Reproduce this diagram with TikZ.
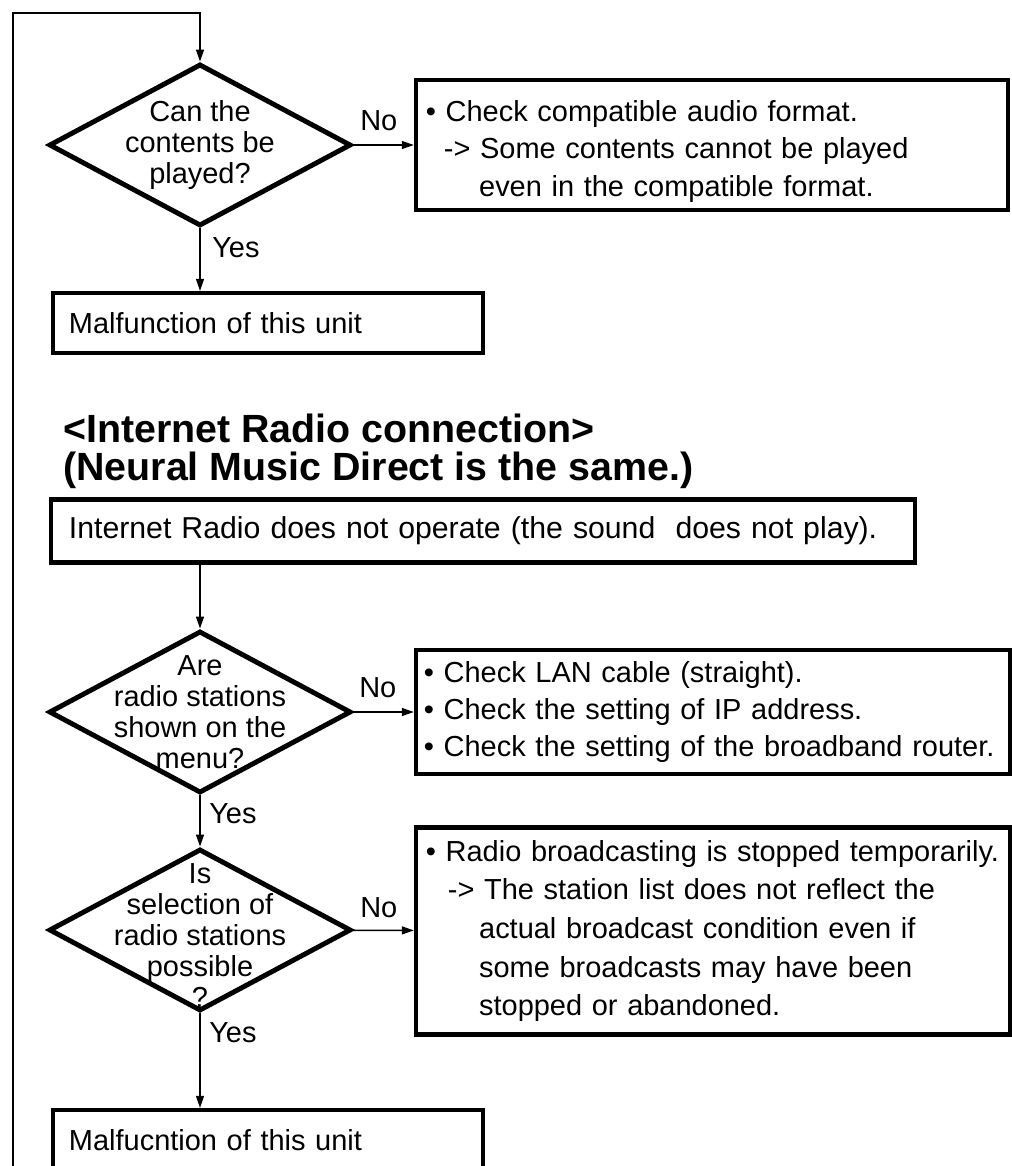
\documentclass[tikz,border=0pt]{standalone}
\usepackage{fontspec}
\setmainfont{Liberation Sans}
\usetikzlibrary{shapes.geometric,arrows.meta}

\tikzset{
  decision/.style={diamond,draw,line width=3.5pt,inner sep=0pt,minimum width=7.55cm,minimum height=4.05cm},
  dtext/.style={align=center,inner sep=0pt,font=\fontsize{20.6pt}{22pt}\selectfont},
  box/.style={draw,line width=3pt,inner xsep=0.25cm,inner ysep=0pt,align=left,font=\fontsize{20.6pt}{26.5pt}\selectfont},
  flow/.style={line width=1pt,-{Triangle[length=0.3cm,width=0.2cm]}},
  lbl/.style={inner sep=0pt,anchor=base west,font=\fontsize{20.6pt}{24pt}\selectfont},
  heading/.style={inner sep=0pt,anchor=base west,align=left,font=\fontsize{28pt}{26.5pt}\selectfont\bfseries}
}

\begin{document}
\begin{tikzpicture}[x=0.025cm,y=-0.025cm]
\useasboundingbox (0,0) rectangle (1012,1166);
\clip (0,0) rectangle (1012,1166);

% first check
\node[decision,label={[dtext]center:{Can the\\contents be\\played?}}] (d1) at (200,145) {};
\node[box,text width=14.3cm,minimum height=3.25cm] (b1) at (712,145) {\rule{0pt}{24pt}\textbullet\ Check compatible audio format.\\
\hspace*{0.45cm}-> Some contents cannot be played\\
\hspace*{1.33cm}even in the compatible format.};
\node[box,inner xsep=0.4cm,text width=9.95cm,minimum height=1.5cm] (mal1) at (268,323) {Malfunction of this unit};

% internet radio
\node[heading] (title) at (63,480) {<Internet Radio connection>\\(Neural Music Direct is the same.)};
\node[box,inner xsep=0.45cm,text width=20.7cm,minimum height=1.575cm,font=\fontsize{21.5pt}{26pt}\selectfont] (rbox) at (483,531) {Internet Radio does not operate (the sound\ \ does not play).};

\node[decision,label={[dtext]center:{Are\\radio stations\\shown on the\\menu?}}] (d2) at (200,712) {};
\node[box,inner xsep=0.2cm,text width=14.45cm,minimum height=3.1cm] (b2) at (713,712) {\textbullet\ Check LAN cable (straight).\\
\textbullet\ Check the setting of IP address.\\
\textbullet\ Check the setting of the broadband router.};

\node[decision,label={[dtext,yshift=-4pt]center:{Is\\selection of\\radio stations\\possible\\?}}] (d3) at (200,930) {};
\node[box,text width=14.35cm,minimum height=5.175cm,font=\fontsize{20.6pt}{27.5pt}\selectfont] (b3) at (713,931) {\textbullet\ Radio broadcasting is stopped temporarily.\\
\hspace*{0.55cm}-> The station list does not reflect the\\
\hspace*{1.33cm}actual broadcast condition even if\\
\hspace*{1.33cm}some broadcasts may have been\\
\hspace*{1.33cm}stopped or abandoned.};
\node[box,inner xsep=0.4cm,text width=9.95cm,minimum height=1.5cm] (mal2) at (268,1140) {Malfucntion of this unit};

% arrows
\coordinate (loop) at (13,1170);
\coordinate (top) at (13,13);
\draw[flow] (loop) -- (top) -| (d1.north);
\draw[flow] (d1) -- (b1);
\draw[flow] (d1.south) -- (d1.south |- mal1.north);
\draw[flow] (d2.north |- rbox.south) -- (d2.north);
\draw[flow] (d2) -- (b2);
\draw[flow] (d2) -- (d3);
\draw[flow] (d3) -- (b3);
\draw[flow] (d3.south) -- (d3.south |- mal2.north);

\node[lbl] (no1) at (360,130) {No};
\node[lbl] (yes1) at (212,257) {Yes};
\node[lbl] (no2) at (359,697) {No};
\node[lbl] (yes2) at (209,823) {Yes};
\node[lbl] (no3) at (360,917) {No};
\node[lbl] (yes3) at (209,1042) {Yes};
\end{tikzpicture}
\end{document}
